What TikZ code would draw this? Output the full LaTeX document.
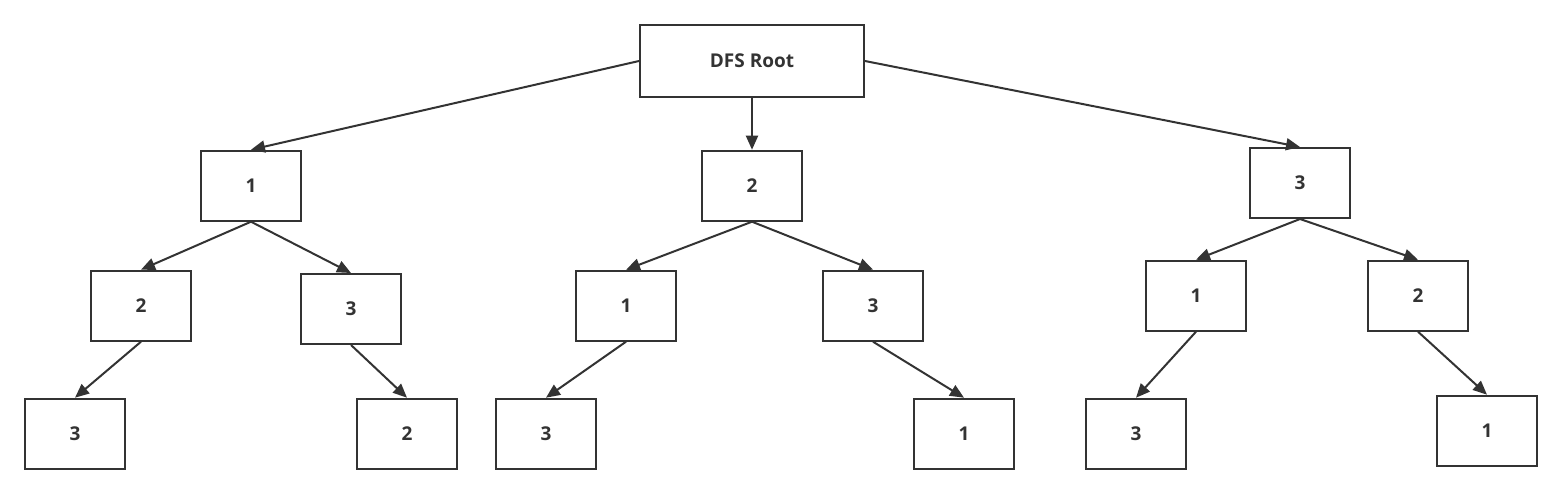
\documentclass[tikz,border=0pt]{standalone}
\usepackage{fontspec}
\setmainfont{Open Sans}
\usetikzlibrary{arrows.meta}
\definecolor{ink}{HTML}{333333}
\begin{document}
\begin{tikzpicture}[x=0.5pt,y=-0.5pt,
  box/.style={draw=ink,line width=1pt,minimum width=50pt,minimum height=35pt,inner sep=0pt,
    font=\fontsize{9.5pt}{11pt}\selectfont\bfseries,text=ink},
  rootbox/.style={box,minimum width=112pt,minimum height=36pt},
  edge/.style={draw=ink,line width=1pt,-{Triangle[length=7pt,width=6pt]}}]
\useasboundingbox (0,0) rectangle (1562,494);
\node[rootbox] (r) at (752,61) {DFS Root};
\node[box] (a1) at (251,185.7) {1};
\node[box] (a2) at (752,185.7) {2};
\node[box] (a3) at (1300,183) {3};
\node[box] (b1) at (141,305.7) {2};
\node[box] (b2) at (351,309) {3};
\node[box] (b3) at (626,305.7) {1};
\node[box] (b4) at (873,305.7) {3};
\node[box] (b5) at (1196,295.7) {1};
\node[box] (b6) at (1418,295.7) {2};
\node[box] (c1) at (75,433.7) {3};
\node[box] (c2) at (407,433.7) {2};
\node[box] (c3) at (546,433.7) {3};
\node[box] (c4) at (964,433.7) {1};
\node[box] (c5) at (1136,433.7) {3};
\node[box] (c6) at (1487,430.7) {1};
\draw[edge] (r.west) -- (a1.north);
\draw[edge] (r.south) -- (a2.north);
\draw[edge] (r.east) -- (a3.north);
\draw[edge] (a1.south) -- (b1.north);
\draw[edge] (a1.south) -- (b2.north);
\draw[edge] (a2.south) -- (b3.north);
\draw[edge] (a2.south) -- (b4.north);
\draw[edge] (a3.south) -- (b5.north);
\draw[edge] (a3.south) -- (b6.north);
\draw[edge] (b1.south) -- (c1.north);
\draw[edge] (b2.south) -- (c2.north);
\draw[edge] (b3.south) -- (c3.north);
\draw[edge] (b4.south) -- (c4.north);
\draw[edge] (b5.south) -- (c5.north);
\draw[edge] (b6.south) -- (c6.north);
\end{tikzpicture}
\end{document}
